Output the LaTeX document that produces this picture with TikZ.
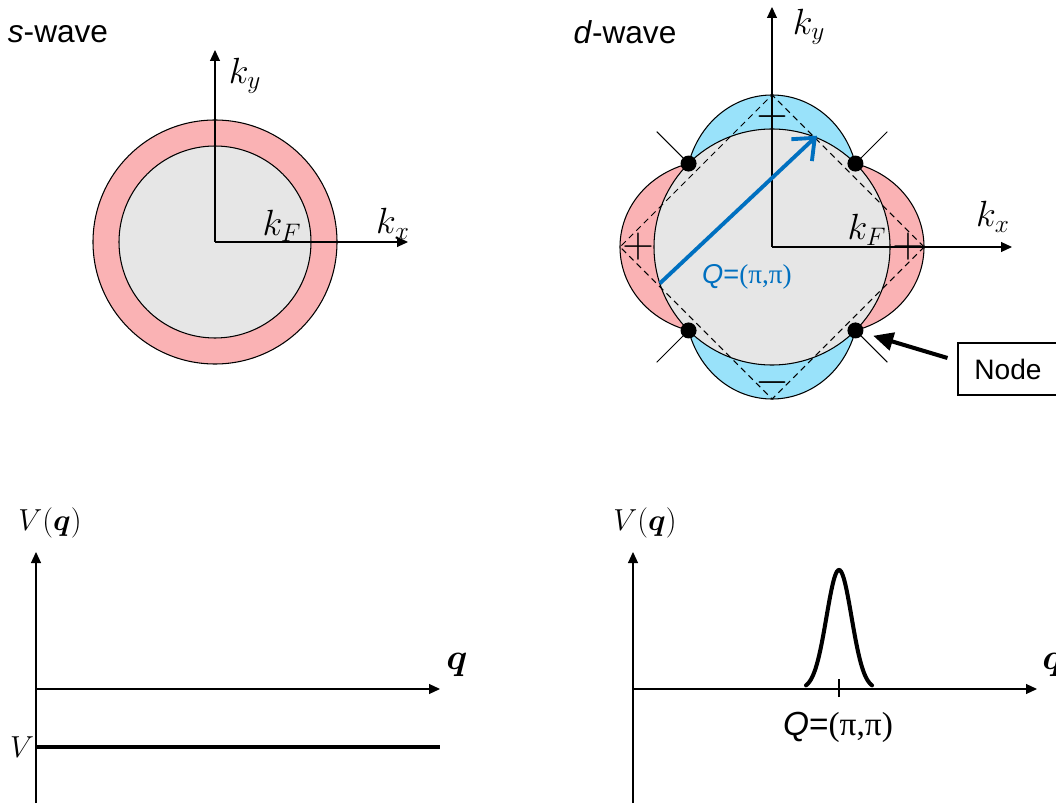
\documentclass[tikz,border=0pt]{standalone}
\usepackage{amsmath}
\usepackage{fontspec}
\setsansfont{Liberation Sans}
\newfontfamily\pifont{Liberation Serif}
\usetikzlibrary{arrows.meta,positioning,calc}
\definecolor{lobered}{RGB}{250,178,180}
\definecolor{lobeblue}{RGB}{153,226,250}
\definecolor{fsgrey}{RGB}{230,230,230}
\definecolor{qblue}{RGB}{0,112,192}

\begin{document}
\begin{tikzpicture}[x=0.2mm,y=0.2mm,line width=0.6pt,
    axis/.style={-{Triangle[length=2.2mm,width=2mm]}},
    lbl/.style={font=\fontsize{17}{20}\selectfont,inner sep=1pt},
    klbl/.style={font=\fontsize{20}{24}\selectfont,inner sep=1pt},
    title/.style={font=\fontsize{18}{22}\selectfont\sffamily,inner sep=1pt},
    sign/.style={font=\fontsize{25}{28}\selectfont,inner sep=0pt},
    nodedot/.style={circle,fill=black,inner sep=0pt,minimum size=3.2mm},
    qarrow/.style={qblue,line width=2.2pt,-{Straight Barb[length=3.6mm,width=6mm]}},
    pointer/.style={line width=2.3pt,-{Triangle[length=4mm,width=3.6mm]},shorten >=2mm}]
  \useasboundingbox (0,0) rectangle (1056,803);

  \node[title] (swave) at (58,769) {\textit{s}-wave};
  \begin{scope}[shift={(215,561)}]
    \draw[fill=lobered] (0,0) circle (122);
    \draw[fill=fsgrey] (0,0) circle (96);
    \draw[axis] (0,0) -- (0,192);
    \draw[axis] (0,0) -- (193,0);
    \node[klbl] (sky) at (30,166) {$k_y$};
    \node[klbl] (skx) at (178,18) {$k_x$};
    \node[klbl] (skf) at (67,16) {$k_F$};
  \end{scope}

  \node[title] (dwave) at (625,771) {\textit{d}-wave};
  \begin{scope}[shift={(772,556)}]
    \foreach \lo/\hi/\c in {-45/45/lobered,45/135/lobeblue,135/225/lobered,225/315/lobeblue}
      \fill[\c] plot[domain=\lo:\hi,samples=91] (\x:{118+34*abs(cos(2*\x))}) -- (0,0) -- cycle;
    \draw plot[domain=0:360,samples=361] (\x:{118+34*abs(cos(2*\x))}) -- cycle;
    \draw[fill=fsgrey] (0,0) circle (118);
    \draw[dash pattern=on 3.5pt off 2.5pt] (152,0) -- (0,152) -- (-152,0) -- (0,-152) -- cycle;
    \draw[axis] (0,0) -- (0,240);
    \draw[axis] (0,0) -- (240,0);
    \node[sign] (pl) at (-134,0) {$+$};
    \node[sign] (pr) at (136,0) {$+$};
    \node[sign] (mt) at (0,130) {$-$};
    \node[sign] (mb) at (0,-136) {$-$};
    \foreach \a in {45,135,225,315}{
      \draw (\a:118) -- (\a:163);
      \node[nodedot] (n\a) at (\a:118) {};
    }
    \coordinate (qstart) at (198:118);
    \coordinate (qend) at (68:120);
    \draw[qarrow] (qstart) -- (qend);
    \node[font=\fontsize{15.5}{18}\selectfont\sffamily,text=qblue,inner sep=1pt] (qlabel) at (-25,-30) {\textit{Q}={\pifont(π,π)}};
    \node[klbl] (dky) at (37,220) {$k_y$};
    \node[klbl] (dkx) at (221,30) {$k_x$};
    \node[klbl] (dkf) at (95,17) {$k_F$};
  \end{scope}
  \node[draw,minimum width=20mm,minimum height=10.4mm,font=\fontsize{16}{19}\selectfont\sffamily] (nodebox) at (1008,434) {Node};
  \coordinate (ptr) at ($(nodebox.west)+(-10,11)$);
  \draw[pointer] (ptr) -- (n315);

  \draw[axis] (36,0) -- (36,251);
  \draw[axis] (36,114) -- (440,114);
  \draw[line width=2.8pt] (36,56) -- (440,56);
  \node[lbl] (lvq) at (50,280) {$V(\boldsymbol{q})$};
  \node[klbl] (lq) at (457,138) {$\boldsymbol{q}$};
  \node[lbl] (lv) at (22,56) {$V$};

  \draw[axis] (633,0) -- (633,251);
  \draw[axis] (633,114) -- (1037,114);
  \draw (839,106) -- (839,124);
  \draw[line width=2.3pt,line cap=round] plot[domain=-33:33,samples=67,smooth] ({839+\x},{114+119*exp(-\x*\x/312.5)});
  \node[font=\fontsize{19}{22}\selectfont\sffamily,inner sep=1pt] (rqq) at (838,76) {\textit{Q}={\pifont(π,π)}};
  \node[lbl] (rvq) at (645,280) {$V(\boldsymbol{q})$};
  \node[klbl] (rq) at (1053,138) {$\boldsymbol{q}$};
\end{tikzpicture}
\end{document}
